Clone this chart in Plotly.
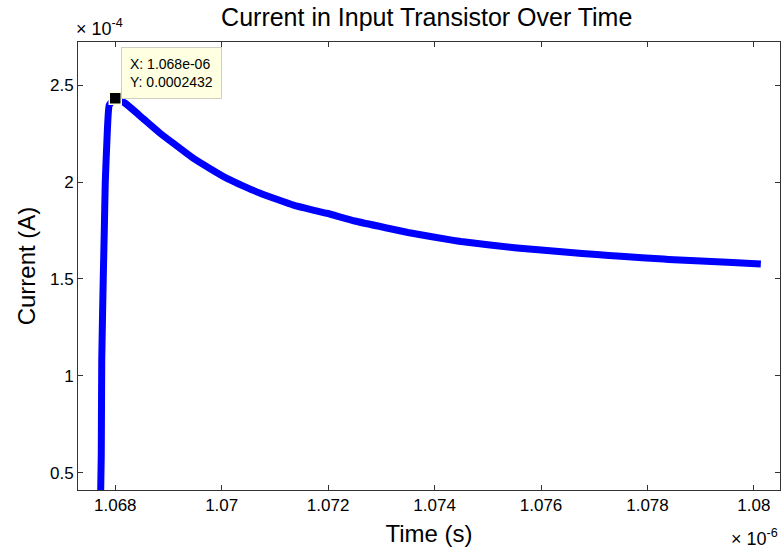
import plotly.graph_objects as go

# Time (s) and current (A)
time_s = [1.06772e-6, 1.067737e-6, 1.067746e-6, 1.067775e-6, 1.067793e-6, 1.067812e-6,
          1.067844e-6, 1.067887e-6, 1.068000e-6, 1.068188e-6, 1.068532e-6, 1.068845e-6,
          1.069158e-6, 1.069470e-6, 1.069784e-6, 1.070098e-6, 1.070409e-6, 1.070723e-6,
          1.071036e-6, 1.071348e-6, 1.071662e-6, 1.071976e-6, 1.072500e-6, 1.073102e-6,
          1.073500e-6, 1.074353e-6, 1.074500e-6, 1.075500e-6, 1.075606e-6, 1.076500e-6,
          1.077046e-6, 1.077500e-6, 1.078297e-6, 1.078500e-6, 1.079500e-6, 1.080130e-6]
current_a = [0.30e-4, 0.593e-4, 1.082e-4, 1.510e-4, 1.737e-4, 1.995e-4,
             2.216e-4, 2.397e-4, 2.432e-4, 2.406e-4, 2.325e-4, 2.251e-4,
             2.186e-4, 2.122e-4, 2.069e-4, 2.019e-4, 1.979e-4, 1.942e-4,
             1.911e-4, 1.881e-4, 1.859e-4, 1.839e-4, 1.799e-4, 1.763e-4,
             1.740e-4, 1.699e-4, 1.693e-4, 1.661e-4, 1.658e-4, 1.638e-4,
             1.626e-4, 1.617e-4, 1.603e-4, 1.599e-4, 1.586e-4, 1.577e-4]

peak_t = [1.068e-6]
peak_i = [2.432e-4]

x_tickvals = [1.068e-6, 1.070e-6, 1.072e-6, 1.074e-6, 1.076e-6, 1.078e-6, 1.080e-6]
x_ticktext = ["1.068", "1.07", "1.072", "1.074", "1.076", "1.078", "1.08"]
y_tickvals = [0.5e-4, 1.0e-4, 1.5e-4, 2.0e-4, 2.5e-4]
y_ticktext = ["0.5", "1", "1.5", "2", "2.5"]

font = "Liberation Sans, Arial, Helvetica, sans-serif"

fig = go.Figure()
fig.add_trace(go.Scatter(x=time_s, y=current_a, mode="lines",
                         line=dict(color="#0000FF", width=7, shape="spline", smoothing=0.4),
                         hoverinfo="skip", showlegend=False))
fig.add_trace(go.Scatter(x=peak_t, y=peak_i, mode="markers",
                         marker=dict(symbol="square", size=12, color="black",
                                     line=dict(color="#FFFFE1", width=1.5)),
                         showlegend=False))

fig.add_annotation(x=peak_t[0], y=peak_i[0], xref="x", yref="y",
                   text="X: 1.068e-06<br>Y: 0.0002432", showarrow=False,
                   xanchor="left", yanchor="bottom", xshift=6, yshift=-1,
                   align="left", bgcolor="#FFFFE1", bordercolor="#D0D0C0",
                   borderwidth=1, borderpad=8,
                   font=dict(family=font, size=14, color="black"))

# Exponent labels
fig.add_annotation(x=0, y=1, xref="paper", yref="paper", text="× 10<sup>-4</sup>",
                   showarrow=False, xanchor="left", yanchor="bottom", xshift=-4, yshift=1,
                   font=dict(family=font, size=18, color="black"))
fig.add_annotation(x=1, y=0, xref="paper", yref="paper", text="× 10<sup>-6</sup>",
                   showarrow=False, xanchor="right", yanchor="top", xshift=0, yshift=-34,
                   font=dict(family=font, size=18, color="black"))

fig.update_layout(
    width=783, height=551,
    margin=dict(l=78, r=3, t=42, b=61),
    paper_bgcolor="white", plot_bgcolor="white",
    title=dict(text="Current in Input Transistor Over Time", x=0.545, xanchor="center",
               y=0.968, yanchor="middle",
               font=dict(family=font, size=25, color="black")),
    font=dict(family=font, size=17, color="black"),
)
fig.update_xaxes(range=[1.06730e-6, 1.08049e-6], tickvals=x_tickvals, ticktext=x_ticktext,
                 ticks="inside", ticklen=5, tickcolor="#333333", showgrid=False,
                 zeroline=False, showline=True, linecolor="#333333", linewidth=1,
                 mirror="ticks",
                 title=dict(text="Time (s)", font=dict(family=font, size=24), standoff=10),
                 tickfont=dict(family=font, size=17))
fig.update_yaxes(range=[0.412e-4, 2.722e-4], tickvals=y_tickvals, ticktext=y_ticktext,
                 ticks="inside", ticklen=5, tickcolor="#333333", showgrid=False,
                 zeroline=False, showline=True, linecolor="#333333", linewidth=1,
                 mirror="ticks",
                 title=dict(text="Current (A)", font=dict(family=font, size=24), standoff=7),
                 tickfont=dict(family=font, size=17))

fig.write_html("out.html")
